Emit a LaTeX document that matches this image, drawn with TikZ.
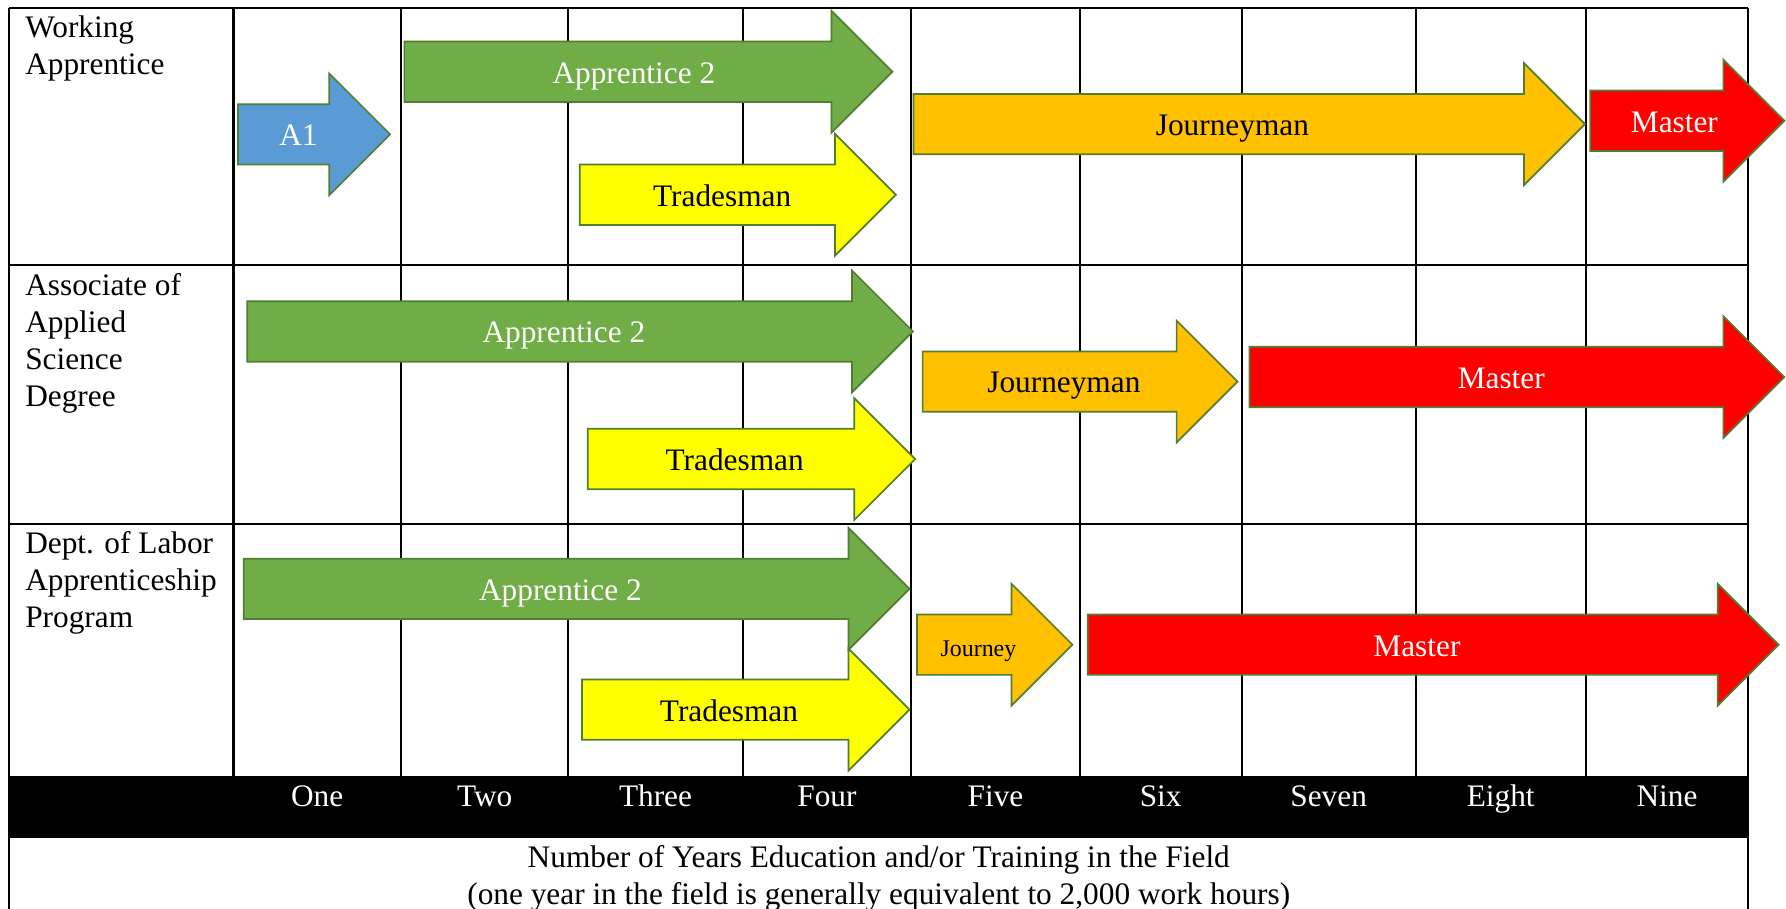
\documentclass[tikz,border=0pt]{standalone}
\usepackage{fontspec}
\setmainfont{Liberation Serif}
\usepackage{tikz}

\definecolor{appblue}{HTML}{5B9BD5}
\definecolor{appgreen}{HTML}{70AD47}
\definecolor{tradeyellow}{HTML}{FFFF00}
\definecolor{journorange}{HTML}{FFC000}
\definecolor{mastred}{HTML}{FF0000}
\definecolor{edgegreen}{HTML}{507E32}

\begin{document}
\begin{tikzpicture}[x=1pt,y=-1pt,line join=miter]
    \tikzset{gridline/.style={line width=1.8pt},
             bar/.style={draw=edgegreen, line width=1.5pt},
             rowlabel/.style={anchor=north west, align=left, inner sep=0pt, font=\fontsize{27.5}{32.5}\selectfont},
             yearlabel/.style={anchor=base, inner sep=0pt, text=white, font=\fontsize{27.5}{32.5}\selectfont}}
    \clip (0,0) rectangle (1568,798);
    % table
    \fill (8,681.5) rectangle (1535,735.5);
    \draw[gridline] (8,7) -- (1535,7);
    \draw[gridline] (8,233) -- (1535,233);
    \draw[gridline] (8,460) -- (1535,460);
    \draw[gridline] (8,7) -- (8,805);
    \draw[gridline] (1535,7) -- (1535,805);
    \foreach \cx in {205,352,499,652,800,948,1090,1243,1392}
        \draw[gridline] (\cx,7) -- (\cx,682);
    % row titles
    \node[rowlabel] (work) at (22,13.4) {Working\\Apprentice};
    \node[rowlabel] (assoc) at (22,239.6) {Associate of\\Applied\\Science\\Degree};
    \node[rowlabel] (dol) at (22,466) {Dept. of Labor\\Apprenticeship\\Program};
    % years
    \foreach \nm/\cx/\yr in {y1/278.5/One, y2/425.5/Two, y3/575.5/Three, y4/726/Four, y5/874/Five,
                             y6/1019/Six, y7/1166.5/Seven, y8/1317.5/Eight, y9/1463.5/Nine}
        \node[yearlabel] (\nm) at (\cx,708) {\yr};
    \node[anchor=north, align=center, inner sep=0pt, font=\fontsize{27.5}{32.5}\selectfont] (axis) at (771.5,742.2)
        {Number of Years Education and/or Training in the Field\\(one year in the field is generally equivalent to 2,000 work hours)};
    % arrows
    \foreach \nm/\xl/\xh/\yc/\fc/\tc/\lx/\fs/\txt in {
        wa1/209/289/118/appblue/white/262/27.5/A1,
        wapp/355/730/63/appgreen/white/556.5/27.5/Apprentice 2,
        wtrade/509/733/171/tradeyellow/black/634/27.5/Tradesman,
        wjourn/802/1338/109/journorange/black/1082/27.5/Journeyman,
        wmast/1396/1513/106/mastred/white/1470/27.5/Master,
        aapp/217/748/291/appgreen/white/495/27.5/Apprentice 2,
        atrade/516/750/403/tradeyellow/black/645/27.5/Tradesman,
        ajourn/810/1033/335/journorange/black/934/27.5/Journeyman,
        amast/1097/1513/331/mastred/white/1318/27.5/Master,
        dapp/214/745/517/appgreen/white/492/27.5/Apprentice 2,
        dtrade/511/745/623/tradeyellow/black/640/27.5/Tradesman,
        djourn/805/888/566/journorange/black/859/21/Journey,
        dmast/955/1508/566/mastred/white/1244/27.5/Master}
    {
        \draw[bar, fill=\fc] (\xl,\yc-26.5) -- (\xh,\yc-26.5) -- (\xh,\yc-53.5) -- (\xh+53.5,\yc)
            -- (\xh,\yc+53.5) -- (\xh,\yc+26.5) -- (\xl,\yc+26.5) -- cycle;
        \node[anchor=base, inner sep=0pt, text=\tc, font=\fontsize{\fs}{\fs}\selectfont] (\nm) at (\lx,\yc+10) {\txt};
    }
\end{tikzpicture}
\end{document}
